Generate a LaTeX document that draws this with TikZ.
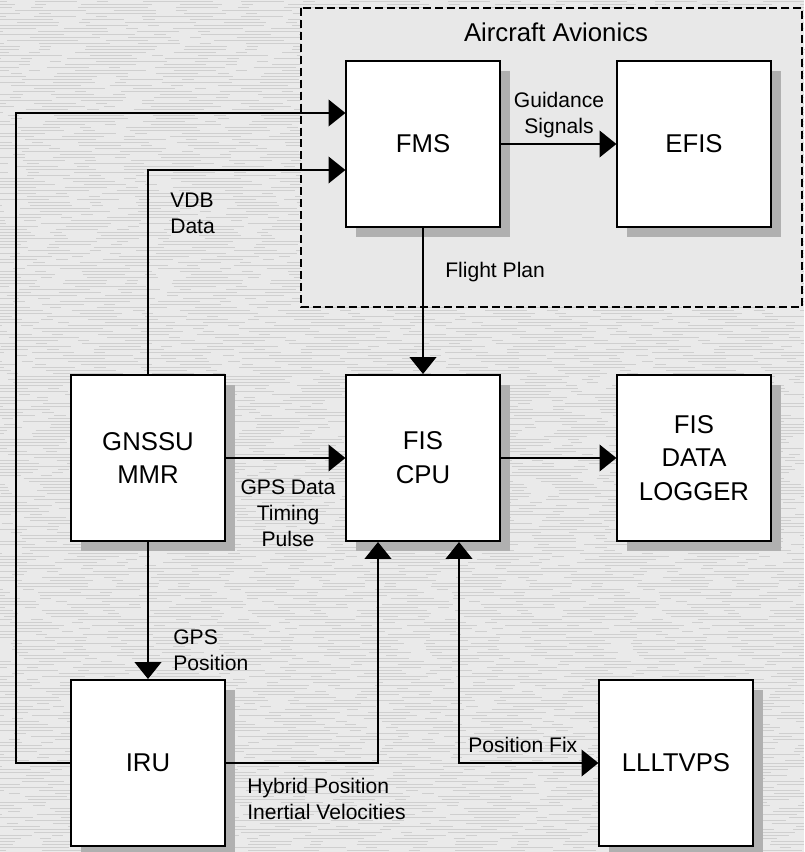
\documentclass[tikz,border=0pt]{standalone}
\usepackage{fontspec}
\setmainfont{Liberation Sans}
\usetikzlibrary{arrows.meta,shadows}
\definecolor{bgcol}{HTML}{EAEAEA}
\definecolor{avcol}{HTML}{E8E8E8}
\definecolor{streakcol}{HTML}{CFCFCF}
\definecolor{shadowcol}{HTML}{B0B0B0}
\newcommand\bxfont{\fontsize{18.3}{24}\selectfont}
\newcommand\lbfont{\fontsize{15}{18.5}\selectfont}
\begin{document}
\begin{tikzpicture}[
    x=0.025cm, y=-0.025cm,
    box/.style={draw, line width=1.4pt, fill=white, minimum width=3.83cm, minimum height=4.15cm,
        font=\bxfont, align=center,
        drop shadow={shadow xshift=0.25cm, shadow yshift=-0.25cm, fill=shadowcol, opacity=1}},
    lbl/.style={font=\lbfont, inner sep=0pt},
    streak/.style={draw=streakcol, line width=0.35pt, dash pattern=on 30pt off 14pt on 8pt off 25pt on 50pt off 20pt},
    avbox/.style={draw, line width=1pt, fill=avcol, dash pattern=on 5.7pt off 2.8pt},
    arr/.style={-{Triangle[length=12pt,width=19pt]}, line width=1.1pt},
    both/.style={{Triangle[length=12pt,width=19pt]}-{Triangle[length=12pt,width=19pt]}, line width=1.1pt}
]
\useasboundingbox (0,0) rectangle (804,852);
% background
\fill[bgcol] (0,0) rectangle (804,852);
\pgfmathsetseed{7}
\foreach \yy in {1,4,...,850} {
    \pgfmathsetmacro\ph{rnd*140}
    \draw[streak, dash phase=\ph pt] (0,\yy) -- (804,\yy);
}

% Aircraft Avionics
\draw[avbox] (301,8) rectangle (802,307);
\node[font=\bxfont] (avtitle) at (556,32) {Aircraft Avionics};
\node[box] (fms) at (423,144) {FMS};
\node[box] (efis) at (694,144) {EFIS};

% FIS units
\node[box] (cpu) at (423,458) {FIS\\CPU};
\node[box] (gnssu) at (148,458) {GNSSU\\MMR};
\node[box] (logger) at (694,458) {FIS\\DATA\\LOGGER};
\node[box] (iru) at (148,763) {IRU};
\node[box] (lll) at (676,763) {LLLTVPS};

% bends
\coordinate (irutop) at (16,113);
\coordinate (vdbtop) at (148,170);

% connectors
\draw[arr] (fms.east) -- (efis.west);
\draw[arr] (fms.south) -- (cpu.north);
\draw[arr] (gnssu.east) -- (cpu.west);
\draw[arr] (cpu.east) -- (logger.west);
\draw[arr] (gnssu.south) -- (iru.north);
\draw[arr] (gnssu.north) -- (vdbtop) -- (fms.west |- vdbtop);
\draw[arr] (iru.west) -| (irutop) -- (fms.west |- irutop);
\draw[arr] (iru.east) -| ([xshift=-1.125cm]cpu.south);
\draw[both] ([xshift=0.9cm]cpu.south) |- (lll.west);

% labels
\node[lbl, align=center] (guid) at (559,115) {Guidance\\Signals};
\node[lbl, anchor=west] (fplan) at (445,272) {Flight Plan};
\node[lbl, anchor=west, align=left] (vdb) at (170,213) {VDB\\Data};
\node[lbl, align=center] (gpsdata) at (288,513) {GPS Data\\Timing\\Pulse};
\node[lbl, anchor=west, align=left] (gpspos) at (173,650) {GPS\\Position};
\node[lbl, anchor=west, align=left] (hybrid) at (247,799) {Hybrid Position\\Inertial Velocities};
\node[lbl, anchor=west] (posfix) at (468,745) {Position Fix};
\end{tikzpicture}
\end{document}
